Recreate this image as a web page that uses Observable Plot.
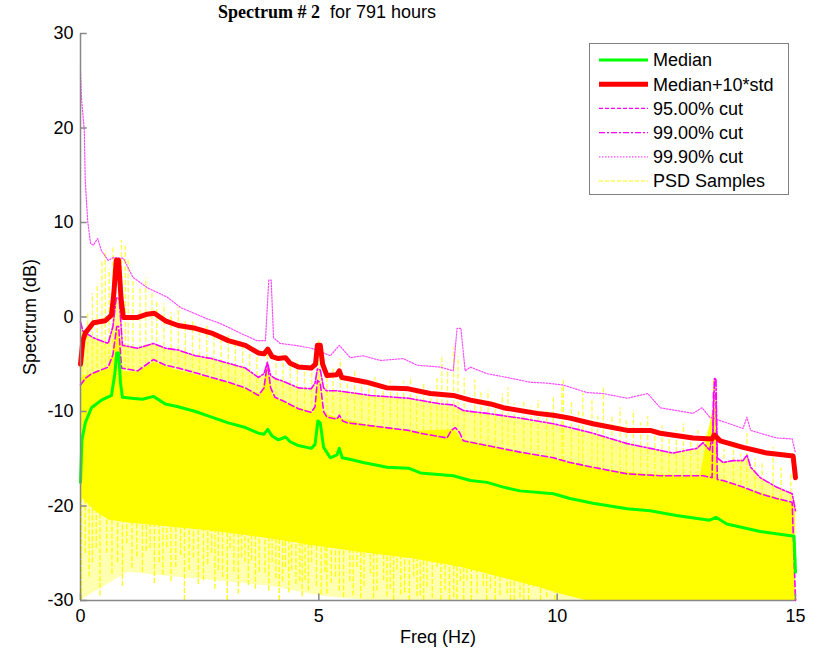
<!DOCTYPE html>
<html>
<head>
<meta charset="utf-8">
<script src="https://cdn.jsdelivr.net/npm/d3@7"></script>
<script src="https://cdn.jsdelivr.net/npm/@observablehq/plot@0.6"></script>
<style>
  html, body { margin: 0; padding: 0; background: #fff; }
  body { width: 817px; height: 650px; position: relative; overflow: hidden; font-family: "Liberation Sans", Arial, sans-serif; }
  #title { height: 20px; line-height: 20px; font-size: 18px; padding-left: 218px; white-space: nowrap; padding-top: 2px; box-sizing: border-box; }
  #title .b { font-family: "Liberation Serif", "Times New Roman", serif; font-weight: bold; }
  #title .r { margin-left: 10px; }
  #legend { position: absolute; left: 589px; top: 43px; width: 198px; height: 150px; border: 1px solid #808080; background: #fff; z-index: 2; }
</style>
</head>
<body>
<div id="title"><span class="b">Spectrum # 2</span><span class="r">for 791 hours</span></div>
<div id="chart"></div>
<div id="legend"></div>
<script>
// ---- data: [frequency (Hz), level (dB)] ----
const medianCurve = [[0,-17.5],[0.03,-13],[0.1,-11.2],[0.23,-9.6],[0.44,-8.8],[0.65,-8.3],[0.72,-6],[0.76,-3.8],[0.8,-3.8],[0.84,-7],[0.88,-8.5],[1.07,-8.6],[1.3,-8.7],[1.53,-8.4],[1.78,-9.2],[2.05,-9.5],[2.41,-10.0],[2.75,-10.6],[3.1,-11.2],[3.46,-11.7],[3.73,-12.3],[3.85,-12.4],[3.93,-11.9],[4.02,-12.6],[4.15,-13.0],[4.3,-12.7],[4.4,-13.2],[4.57,-13.6],[4.84,-13.9],[4.92,-13.5],[4.98,-11.0],[5.03,-11.2],[5.1,-13.8],[5.24,-14.9],[5.38,-14.6],[5.43,-13.9],[5.49,-14.9],[5.6,-15.0],[5.93,-15.4],[6.43,-15.9],[6.88,-16.0],[7.13,-16.5],[7.82,-16.8],[8.18,-17.3],[8.53,-17.5],[8.87,-18.0],[9.22,-18.4],[9.92,-18.7],[10.27,-19.2],[10.75,-19.7],[11.47,-20.3],[11.95,-20.5],[12.5,-21.0],[13.2,-21.5],[13.33,-21.2],[13.56,-21.9],[14.26,-22.7],[14.97,-23.2],[15,-27]];

const stdCurve = [[0,-5],[0.05,-2.5],[0.1,-1.7],[0.27,-0.6],[0.52,-0.4],[0.65,0.2],[0.7,2.5],[0.75,6],[0.8,6],[0.85,2],[0.9,-0.05],[1.2,-0.05],[1.4,0.3],[1.55,0.4],[1.78,-0.4],[2.05,-0.9],[2.41,-1.2],[2.75,-1.7],[3.1,-2.5],[3.46,-3.0],[3.73,-3.8],[3.85,-3.9],[3.93,-3.4],[4.02,-4.2],[4.15,-4.4],[4.3,-4.3],[4.4,-4.9],[4.57,-5.3],[4.84,-5.4],[4.93,-5],[4.97,-3.0],[5.03,-3.0],[5.08,-5],[5.17,-6.2],[5.38,-6.1],[5.43,-5.7],[5.48,-6.4],[5.6,-6.5],[6.0,-6.9],[6.43,-7.5],[6.88,-7.6],[7.34,-8.1],[7.82,-8.3],[8.18,-8.8],[8.6,-9.2],[8.87,-9.6],[9.58,-10.2],[9.92,-10.4],[10.27,-10.7],[10.75,-11.3],[11.47,-12.0],[11.95,-12.0],[12.16,-12.3],[12.85,-12.8],[13.25,-12.9],[13.3,-12.5],[13.42,-13.1],[13.9,-13.8],[14.4,-14.4],[14.95,-14.7],[15,-17]];

const cut95 = [[0,-7.2],[0.1,-6.5],[0.23,-6.0],[0.58,-5.3],[0.68,-4],[0.76,-1],[0.8,-1],[0.86,-5.4],[1.2,-5.7],[1.53,-4.5],[1.78,-5.1],[2.05,-5.4],[2.41,-5.9],[2.75,-6.4],[3.1,-6.9],[3.46,-7.5],[3.73,-8.3],[3.85,-7.5],[3.92,-4.9],[3.99,-7.5],[4.08,-8.5],[4.3,-9.0],[4.57,-9.7],[4.84,-10.1],[4.92,-9.5],[4.97,-6.7],[5.03,-7],[5.1,-10],[5.17,-10.6],[5.38,-10.8],[5.43,-10.4],[5.5,-11],[5.6,-11.2],[6.08,-11.5],[6.88,-12.0],[7.13,-12.3],[7.69,-12.8],[7.78,-12.0],[7.86,-11.7],[7.95,-12.2],[8.03,-13.1],[8.53,-13.6],[9.22,-14.3],[9.92,-14.9],[10.27,-15.4],[10.75,-15.9],[11.47,-16.6],[12.16,-16.8],[13.06,-16.8],[13.25,-17],[13.28,-8],[13.33,-8],[13.36,-17.2],[13.48,-17.3],[13.9,-18.0],[14.26,-18.7],[14.6,-19.2],[14.93,-19.6],[15,-30]];

const cut99 = [[0,-0.5],[0.05,-1.5],[0.27,-2.2],[0.58,-2.8],[0.68,-1],[0.75,2],[0.81,2],[0.88,-3.0],[1.2,-3.3],[1.53,-2.8],[1.78,-3.3],[2.05,-3.5],[2.41,-4.1],[2.75,-4.4],[3.1,-4.9],[3.46,-5.4],[3.73,-6.4],[3.85,-6],[3.92,-4.8],[3.99,-6.2],[4.08,-6.5],[4.3,-6.9],[4.57,-7.5],[4.84,-7.6],[4.92,-7],[4.97,-5.5],[5.03,-5.6],[5.1,-7.5],[5.16,-7.8],[5.38,-7.8],[6.08,-8.3],[6.88,-8.6],[7.55,-9.2],[7.82,-9.3],[8.03,-9.9],[8.53,-10.2],[9.22,-10.7],[9.92,-11.3],[10.27,-11.7],[10.75,-12.3],[11.47,-13.4],[11.95,-13.9],[12.43,-14.4],[12.72,-14.1],[12.93,-13.9],[13.06,-13.3],[13.2,-14.1],[13.27,-12],[13.3,-6.5],[13.33,-6.5],[13.36,-14.9],[13.48,-15.4],[13.69,-15.2],[13.9,-15.2],[13.98,-14.6],[14.06,-15.9],[14.26,-17.0],[14.6,-18.0],[14.93,-18.7],[15,-20.5]];

const cut999 = [[0,26],[0.02,23.2],[0.08,19.7],[0.1,14.4],[0.15,10.2],[0.21,7.8],[0.27,7.6],[0.36,8.3],[0.44,7.0],[0.58,6.0],[0.7,6.3],[0.9,6.2],[1.1,4.2],[1.4,3.1],[1.82,2.1],[2.1,1.0],[2.66,-0.2],[2.94,-0.7],[3.35,-1.7],[3.7,-2.5],[3.88,-2.5],[3.95,3.9],[4.0,3.9],[4.05,-2.2],[4.19,-2.8],[4.5,-3.0],[4.84,-3.3],[5.0,-3.6],[5.24,-4.1],[5.43,-3.0],[5.66,-4.3],[5.93,-4.1],[6.29,-4.6],[6.77,-4.4],[7.06,-5.1],[7.55,-5.3],[7.82,-5.7],[7.9,-1.2],[7.98,-1.2],[8.07,-5.7],[8.18,-5.3],[8.53,-6.0],[8.95,-6.4],[9.43,-6.9],[9.79,-7.0],[10.13,-7.2],[10.63,-8.0],[10.96,-8.1],[11.47,-8.6],[11.9,-8.1],[12.16,-9.6],[12.85,-10.2],[13.04,-9.6],[13.2,-10.6],[13.56,-11.2],[13.9,-11.8],[13.98,-10.6],[14.06,-12],[14.26,-12.3],[14.6,-12.8],[14.93,-12.9],[15,-14.4]];

// PSD samples: top / bottom of the solid yellow body, and the lower limit of the sparse streaks
const psdTop = [[0,-6.5],[0.1,-6.2],[0.3,-5.9],[0.6,-5.5],[0.72,-3],[0.78,-0.5],[0.85,-4],[0.9,-5.8],[1.2,-5.8],[1.55,-4.8],[2,-5.6],[2.5,-6.2],[3,-6.8],[3.5,-7.6],[3.8,-8.2],[3.92,-5.2],[4.05,-8.5],[4.5,-9.5],[4.9,-10.1],[5.0,-6.8],[5.1,-10.2],[5.5,-10.8],[6,-11.4],[7,-12.1],[7.85,-11.9],[8,-13],[9,-14.1],[10,-15.1],[11,-16.2],[12,-16.7],[13,-16.8],[13.3,-9],[13.4,-17.2],[14,-18.2],[14.6,-19.1],[15,-19.8]];
const psdBottom = [[0,-19],[0.3,-20.5],[0.6,-21.5],[1,-21.8],[2,-22.3],[3,-22.8],[4,-23.5],[5,-24.3],[6,-25],[7,-25.6],[8,-26.5],[9,-27.8],[9.6,-28.6],[10.2,-29.5],[10.6,-30],[15,-30]];
const psdSparse = [[0,-30],[1,-27],[2,-27.5],[3,-28],[4,-28.5],[5,-29.5],[6,-30],[15,-30]];
const psdDips = [[0.02,-30],[0.1,-25],[0.18,-27.5],[0.25,-26],[0.33,-24.5],[0.41,-29.5],[0.55,-25],[0.66,-27.2],[0.78,-26],[0.88,-28.5],[0.97,-24],[1.08,-26.6],[1.18,-25.4],[1.3,-27],[1.38,-24.8],[1.46,-24.5],[1.55,-28.2],[1.65,-26],[1.73,-27.3],[1.81,-24.4],[1.9,-28],[2.0,-26.5],[2.1,-25.2],[2.18,-30],[2.28,-26.8],[2.37,-25.5],[2.47,-28.3],[2.58,-27.9],[2.67,-26.2],[2.75,-25],[2.82,-28.8],[2.89,-26.8],[2.98,-27.6],[3.08,-30],[3.14,-24.5],[3.22,-27],[3.31,-29.3],[3.38,-25.5],[3.45,-26],[3.52,-28.4],[3.59,-25.8],[3.67,-28.8],[3.75,-27],[3.87,-27.1],[3.95,-29],[4.02,-26],[4.1,-27.7],[4.17,-30],[4.24,-28],[4.3,-26.5],[4.37,-29.2],[4.43,-26.8],[4.52,-28.3],[4.6,-28],[4.65,-29.6],[4.71,-27.9],[4.78,-29],[4.85,-26],[4.95,-28.5],[5.05,-29.4],[5.13,-27],[5.17,-29.3],[5.26,-28.2],[5.35,-27.5],[5.43,-29],[5.52,-29.7],[5.65,-28],[5.72,-29.5],[5.8,-26.5],[5.88,-29.8],[5.95,-28.5],[6.08,-27.2],[6.15,-29.8],[6.22,-29],[6.36,-27.9],[6.43,-29.6],[6.5,-28.8],[6.57,-30],[6.64,-26.8],[6.72,-29.4],[6.8,-29.2],[6.9,-30],[6.99,-27.5],[7.06,-29.6],[7.13,-29.5],[7.2,-30],[7.27,-28.6],[7.38,-29.8],[7.48,-26.5],[7.56,-30],[7.65,-29],[7.74,-30],[7.83,-29.7],[7.9,-29.9],[7.97,-28],[8.04,-30],[8.11,-27.9],[8.2,-30],[8.32,-29.3],[8.45,-28.5],[8.52,-30],[8.6,-28.8],[8.7,-30],[8.8,-29.5],[8.95,-29.3],[9.02,-30],[9.1,-30],[9.22,-29.7],[9.3,-30],[9.4,-30],[9.5,-28.6],[9.65,-30],[9.78,-29.7],[9.95,-30],[10.06,-29.3]];
const psdPeaks = [[0.05,-2],[0.15,0.5],[0.25,2.5],[0.35,3.5],[0.45,6],[0.52,7],[0.6,5],[0.68,7.4],[0.86,8.1],[0.94,7.5],[1.0,6],[1.1,4],[1.25,3],[1.37,4.1],[1.5,2.5],[1.6,1.7],[1.75,1.4],[1.9,0.5],[2.05,1.0],[2.2,-0.5],[2.35,-0.3],[2.5,-1.5],[2.65,-0.8],[2.8,-1.8],[2.95,-2.5],[3.1,-2],[3.25,-3],[3.4,-2.8],[3.55,-3.8],[3.7,-3.5],[3.92,-4.0],[4.1,-4.5],[4.25,-3.8],[4.4,-5],[4.55,-4.6],[4.7,-5.5],[4.85,-5],[5.0,-2.5],[5.17,-6],[5.3,-5.5],[5.45,-4.5],[5.6,-6.5],[5.75,-5.8],[5.9,-6.5],[6.05,-7],[6.18,-6.4],[6.35,-7.2],[6.5,-6.8],[6.65,-7.5],[6.78,-6.8],[6.92,-6.4],[7.05,-7.5],[7.2,-7],[7.35,-8],[7.48,-6.5],[7.58,-4.3],[7.7,-5.5],[7.83,-3.2],[7.92,-4.2],[8.05,-6.5],[8.27,-6.7],[8.4,-8],[8.55,-7.8],[8.7,-9],[8.85,-8.2],[8.97,-7.5],[9.1,-9.2],[9.3,-8.8],[9.45,-9.5],[9.6,-8.8],[9.78,-9.8],[9.92,-8.5],[10.1,-7.5],[10.13,-6.7],[10.3,-9],[10.45,-10],[10.54,-8.1],[10.73,-8.8],[10.85,-10.5],[10.97,-7.5],[11.15,-10.5],[11.32,-9.6],[11.45,-11],[11.6,-9.9],[11.75,-11.2],[11.9,-10.5],[12.05,-12],[12.2,-11.5],[12.35,-12.5],[12.5,-12],[12.65,-11.3],[12.8,-12.5],[12.95,-12],[13.1,-13],[13.28,-6.5],[13.32,-7],[13.5,-14],[13.7,-13.5],[13.85,-14.5],[13.98,-12.3],[14.15,-15],[14.3,-15.5],[14.53,-13.8],[14.7,-16],[14.9,-16.5]];

const xTicks = [0, 5, 10, 15];
const yTicks = [-30, -20, -10, 0, 10, 20, 30];
const legendLabels = ["Median", "Median+10*std", "95.00% cut", "99.00% cut", "99.90% cut", "PSD Samples"];

// ---- helpers ----
function interp(curve) {
  const xs = curve.map(d => d[0]), ys = curve.map(d => d[1]);
  return f => {
    if (f <= xs[0]) return ys[0];
    if (f >= xs[xs.length - 1]) return ys[ys.length - 1];
    const i = d3.bisectRight(xs, f);
    const t = (f - xs[i - 1]) / (xs[i] - xs[i - 1]);
    return ys[i - 1] + t * (ys[i] - ys[i - 1]);
  };
}
function band(lowCurve, highCurve) {
  const lo = interp(lowCurve), hi = interp(highCurve);
  const fs = Array.from(new Set([...lowCurve.map(d => d[0]), ...highCurve.map(d => d[0])])).sort((a, b) => a - b);
  return fs.map(f => ({f, lo: lo(f), hi: Math.max(lo(f), hi(f))}));
}
const medAt = interp(medianCurve);
const denseBand = band(psdBottom, psdTop);
const looseBand = band(psdTop, cut99);
const sparseBand = band(psdSparse, psdBottom);

const YEL = "#ffff00", MAG = "#ff00ff";

const chart = Plot.plot({
  width: 817,
  height: 630,
  marginLeft: 80,
  marginRight: 22,
  marginTop: 13,
  marginBottom: 50,
  style: {fontFamily: "'Liberation Sans', Arial, sans-serif", fontSize: "18px", color: "#000", background: "#fff"},
  x: {domain: [0, 15]},
  y: {domain: [-30, 30]},
  marks: [
    // PSD samples
    Plot.areaY(sparseBand, {x: "f", y1: "lo", y2: "hi", fill: YEL, fillOpacity: 0.3, curve: "linear"}),
    Plot.areaY(denseBand, {x: "f", y1: "lo", y2: "hi", fill: YEL, curve: "linear"}),
    Plot.areaY(looseBand, {x: "f", y1: "lo", y2: "hi", fill: YEL, fillOpacity: 0.45, curve: "linear"}),
    Plot.ruleX(psdDips, {x: d => d[0], y1: d => d[1], y2: d => medAt(d[0]), stroke: YEL, strokeWidth: 1.3, strokeDasharray: "5,2"}),
    Plot.ruleX(psdPeaks, {x: d => d[0], y1: d => medAt(d[0]), y2: d => d[1], stroke: YEL, strokeOpacity: 0.75, strokeWidth: 1.3, strokeDasharray: "5,2"}),
    // percentile cuts
    Plot.line(cut999, {x: d => d[0], y: d => d[1], stroke: MAG, strokeOpacity: 0.7, strokeWidth: 1.2, strokeDasharray: "1.5,1.5"}),
    Plot.line(cut99, {x: d => d[0], y: d => d[1], stroke: MAG, strokeWidth: 1.6, strokeDasharray: "7,2,2,2"}),
    Plot.line(cut95, {x: d => d[0], y: d => d[1], stroke: MAG, strokeWidth: 1.6, strokeDasharray: "6,3"}),
    // median+10*std and median
    Plot.line(stdCurve, {x: d => d[0], y: d => d[1], stroke: "#ff0000", strokeWidth: 5, strokeLinejoin: "round"}),
    Plot.line(medianCurve, {x: d => d[0], y: d => d[1], stroke: "#00ff00", strokeWidth: 3, strokeLinejoin: "round"}),
    // axes (left and bottom only, inward ticks)
    Plot.ruleX([0], {stroke: "#888", strokeWidth: 1.5}),
    Plot.ruleY([-30], {stroke: "#888", strokeWidth: 1.5}),
    Plot.ruleY(yTicks, {x1: 0, x2: 0.14, stroke: "#888", strokeWidth: 1.5}),
    Plot.ruleX(xTicks, {y1: -30, y2: -29.3, stroke: "#888", strokeWidth: 1.5}),
    Plot.axisY(yTicks, {tickSize: 0, tickPadding: 7, tickFormat: d => String(d), label: "Spectrum (dB)", labelAnchor: "center", labelOffset: 57, labelArrow: "none", fontSize: 18}),
    Plot.axisX(xTicks, {tickSize: 0, tickPadding: 9, tickFormat: d => String(d), label: "Freq (Hz)", labelAnchor: "center", labelOffset: 42, labelArrow: "none", fontSize: 18})
  ]
});
document.getElementById("chart").appendChild(chart);

// ---- legend ----
const styles = [
  {stroke: "#00ff00", w: 3, dash: null, op: 1},
  {stroke: "#ff0000", w: 5, dash: null, op: 1},
  {stroke: MAG, w: 1.4, dash: "4,2", op: 1},
  {stroke: MAG, w: 1.4, dash: "6,2,2,2", op: 1},
  {stroke: MAG, w: 1.2, dash: "1.5,1.5", op: 0.7},
  {stroke: YEL, w: 1.2, dash: "4,2", op: 1}
];
const lg = d3.select("#legend").append("svg").attr("width", 198).attr("height", 150);
legendLabels.forEach((t, i) => {
  const cy = 16 + i * 24.2;
  const ln = lg.append("line").attr("x1", 9).attr("x2", 58).attr("y1", cy).attr("y2", cy)
    .attr("stroke", styles[i].stroke).attr("stroke-width", styles[i].w).attr("stroke-opacity", styles[i].op);
  if (styles[i].dash) ln.attr("stroke-dasharray", styles[i].dash);
  lg.append("text").attr("x", 63).attr("y", cy).attr("dy", "0.35em")
    .attr("font-size", 18).attr("font-family", "'Liberation Sans', Arial, sans-serif").text(t);
});
</script>
</body>
</html>
